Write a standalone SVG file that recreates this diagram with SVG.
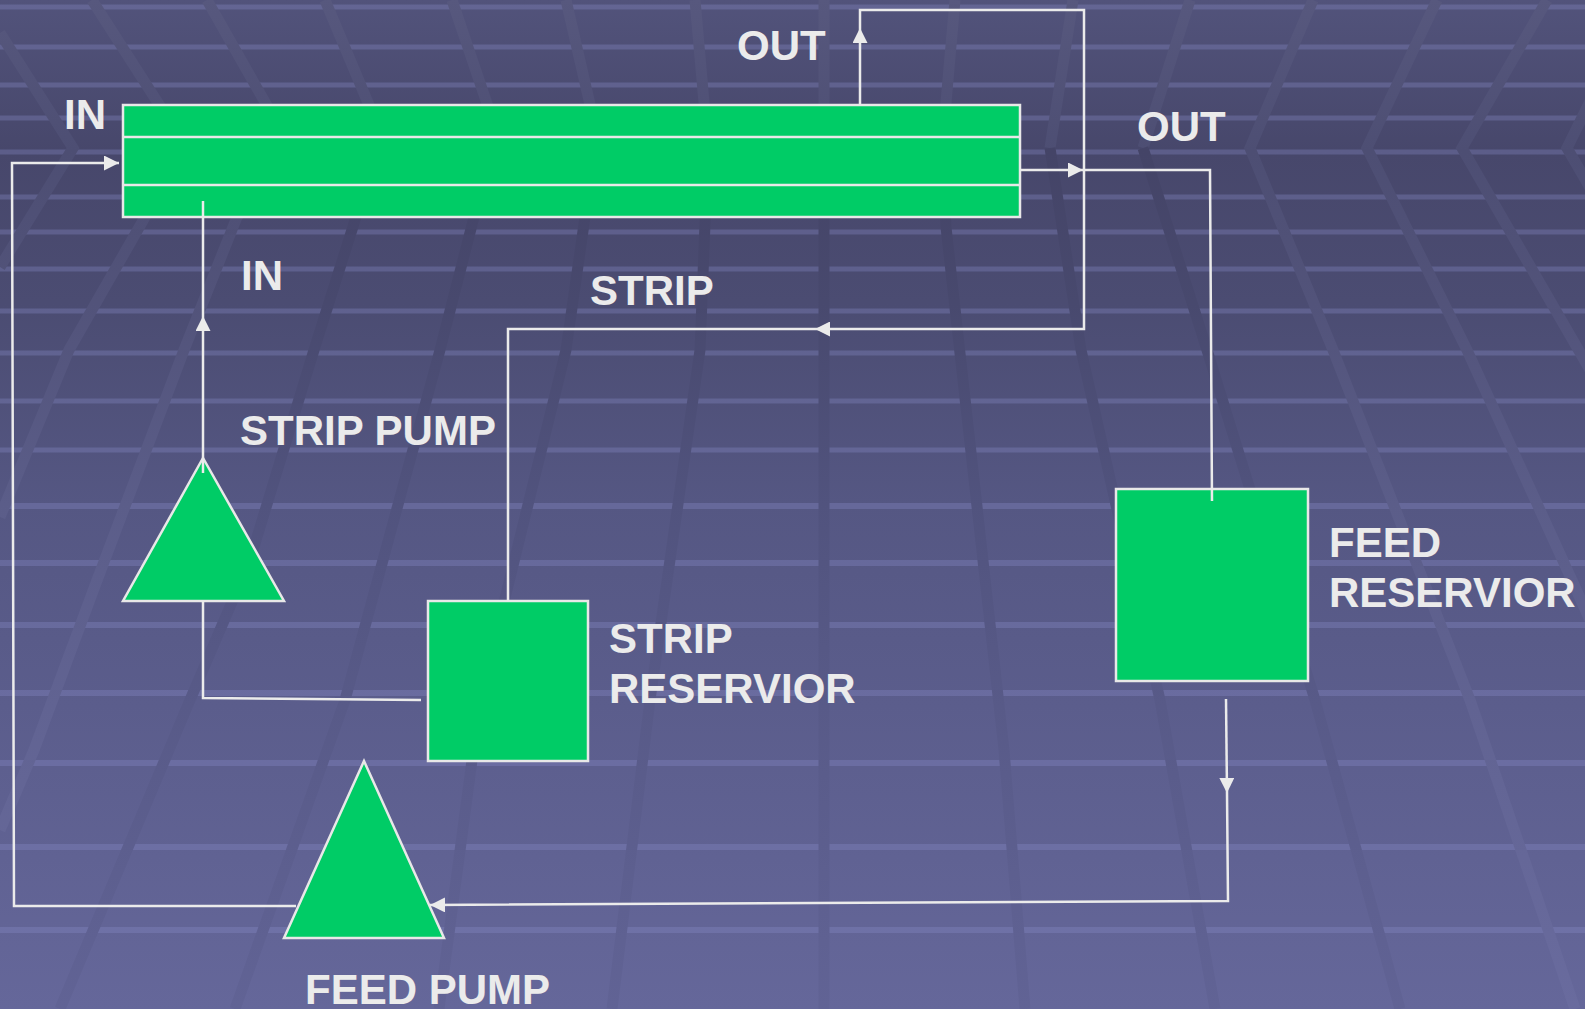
<svg xmlns="http://www.w3.org/2000/svg" width="1585" height="1009" viewBox="0 0 1585 1009">
<defs>
<linearGradient id="bg" gradientUnits="userSpaceOnUse" x1="0" y1="0" x2="0" y2="1009">
<stop offset="0" stop-color="#52537b"/>
<stop offset="0.15" stop-color="#47476b"/>
<stop offset="0.3" stop-color="#4b4c72"/>
<stop offset="0.5" stop-color="#555783"/>
<stop offset="0.7" stop-color="#5b5d8c"/>
<stop offset="1" stop-color="#65679a"/>
</linearGradient>
<linearGradient id="bandDark" gradientUnits="userSpaceOnUse" x1="0" y1="0" x2="0" y2="1009">
<stop offset="0" stop-color="#4e4f76"/>
<stop offset="0.15" stop-color="#444467"/>
<stop offset="0.3" stop-color="#48496e"/>
<stop offset="0.5" stop-color="#51537e"/>
<stop offset="0.7" stop-color="#585a88"/>
<stop offset="1" stop-color="#616395"/>
</linearGradient>
<linearGradient id="bandLight" gradientUnits="userSpaceOnUse" x1="0" y1="0" x2="0" y2="1009">
<stop offset="0" stop-color="#57587e"/>
<stop offset="0.15" stop-color="#4d4e73"/>
<stop offset="0.3" stop-color="#52537a"/>
<stop offset="0.5" stop-color="#5b5d89"/>
<stop offset="0.7" stop-color="#616392"/>
<stop offset="1" stop-color="#696b9e"/>
</linearGradient>
<marker id="arr" viewBox="0 0 10 10" refX="10" refY="5" markerWidth="15" markerHeight="15" markerUnits="userSpaceOnUse" orient="auto">
<path d="M0,0 L10,5 L0,10 z" fill="#ebebeb"/>
</marker>
<style>
.stripe{fill:#8a8cc8;fill-opacity:0.33}
.bd{fill:none;stroke:url(#bandDark);stroke-width:11}
.bl{fill:none;stroke:url(#bandLight);stroke-width:11}
.node{fill:#00cc66;stroke:#e8e8e8;stroke-width:2.5}
.div{stroke:#e8e8e8;stroke-width:2.5}
.conn{fill:none;stroke:#ebebeb;stroke-width:2.5}
.lbl{font-family:"Liberation Sans",Arial,Helvetica,sans-serif;font-weight:bold;font-size:42px;fill:#ebebeb}
</style>
</defs>

<g id="background">
<rect x="0" y="0" width="1585" height="1009" fill="url(#bg)"/>
<rect class="stripe" x="0" y="4.5" width="1585" height="5"/>
<rect class="stripe" x="0" y="44.5" width="1585" height="5"/>
<rect class="stripe" x="0" y="82.5" width="1585" height="5"/>
<rect class="stripe" x="0" y="115.5" width="1585" height="5"/>
<rect class="stripe" x="0" y="149.5" width="1585" height="5"/>
<rect class="stripe" x="0" y="194.5" width="1585" height="5"/>
<rect class="stripe" x="0" y="229.5" width="1585" height="5"/>
<rect class="stripe" x="0" y="266.5" width="1585" height="5"/>
<rect class="stripe" x="0" y="308.5" width="1585" height="5"/>
<rect class="stripe" x="0" y="350.5" width="1585" height="5"/>
<rect class="stripe" x="0" y="398.5" width="1585" height="5"/>
<rect class="stripe" x="0" y="447.5" width="1585" height="5"/>
<rect class="stripe" x="0" y="503" width="1585" height="6"/>
<rect class="stripe" x="0" y="560" width="1585" height="6"/>
<rect class="stripe" x="0" y="622" width="1585" height="6"/>
<rect class="stripe" x="0" y="690" width="1585" height="6"/>
<rect class="stripe" x="0" y="760" width="1585" height="6"/>
<rect class="stripe" x="0" y="844" width="1585" height="6"/>
<rect class="stripe" x="0" y="927" width="1585" height="6"/>
<path class="bl" d="M0,33 L73,148 L0,267"/>
<path class="bl" d="M92,0 L187,148 L145,217 L69,350 L0,517"/>
<path class="bl" d="M207,0 L291,148 L237,217 L184,350 L96,583 L34,750 L0,830"/>
<path class="bl" d="M325,0 L387,148"/>
<path class="bl" d="M452,0 L502,148"/>
<path class="bl" d="M566,0 L600,148"/>
<path class="bl" d="M695,0 L708,148"/>
<path class="bl" d="M824,0 L824,148"/>
<path class="bl" d="M955,0 L942,148"/>
<path class="bl" d="M1073,0 L1050,148"/>
<path class="bl" d="M1190,0 L1143,148"/>
<path class="bl" d="M1313,0 L1250,148 L1333,350 L1470,700 L1575,1009"/>
<path class="bl" d="M1437,0 L1367,148 L1467,350 L1590,620"/>
<path class="bl" d="M1547,0 L1462,148 L1590,370"/>
<path class="bl" d="M1640,0 L1567,148 L1600,205"/>
<path class="bd" d="M387,148 L356,217 L314,350 L250,560 L190,700 L60,1009"/>
<path class="bd" d="M502,148 L474,217 L440,350 L345,700 L235,1009"/>
<path class="bd" d="M600,148 L585,217 L566,350 L480,700 L439,1009"/>
<path class="bd" d="M708,148 L700,350 L650,700 L612,1009"/>
<path class="bd" d="M824,148 L824,1009"/>
<path class="bd" d="M942,148 L946,227 L1004,750 L1025,1009"/>
<path class="bd" d="M1050,148 L1081,350 L1160,700 L1215,1009"/>
<path class="bd" d="M1143,148 L1207,350 L1315,700 L1400,1009"/>
</g>

<g id="membrane-column">
<rect class="node" x="123" y="105" width="897" height="112"/>
<line class="div" x1="123" y1="137" x2="1020" y2="137"/>
<line class="div" x1="123" y1="185" x2="1020" y2="185"/>
</g>
<g id="strip-pump">
<polygon class="node" points="203,458 123,601 284,601"/>
</g>
<g id="feed-pump">
<polygon class="node" points="364,761 284,938 444,938"/>
</g>
<g id="strip-reservoir">
<rect class="node" x="428" y="601" width="160" height="160"/>
</g>
<g id="feed-reservoir">
<rect class="node" x="1116" y="489" width="192" height="192"/>
</g>

<g id="connectors">
<path class="conn" d="M296,906 L14,906 L12,163 L119,163" marker-end="url(#arr)"/>
<path class="conn" d="M860,105 L860,28" marker-end="url(#arr)"/>
<path class="conn" d="M860,28 L860,10 L1084,10 L1084,329 L815,329" marker-end="url(#arr)"/>
<path class="conn" d="M815,329 L508,329 L508,601"/>
<path class="conn" d="M1020,170 L1083,170" marker-end="url(#arr)"/>
<path class="conn" d="M1083,170 L1210,170 L1212,501"/>
<path class="conn" d="M1226,699 L1227,793" marker-end="url(#arr)"/>
<path class="conn" d="M1227,793 L1228,901 L430,905" marker-end="url(#arr)"/>
<path class="conn" d="M421,700 L203,698 L203,601"/>
<path class="conn" d="M203,473 L203,316" marker-end="url(#arr)"/>
<path class="conn" d="M203,316 L203,201"/>
</g>

<g id="labels">
<text class="lbl" x="64" y="129">IN</text>
<text class="lbl" x="737" y="60">OUT</text>
<text class="lbl" x="1137" y="141">OUT</text>
<text class="lbl" x="241" y="290">IN</text>
<text class="lbl" x="590" y="305">STRIP</text>
<text class="lbl" x="240" y="445">STRIP PUMP</text>
<text class="lbl" x="609" y="653">STRIP</text>
<text class="lbl" x="609" y="703">RESERVIOR</text>
<text class="lbl" x="1329" y="557">FEED</text>
<text class="lbl" x="1329" y="607">RESERVIOR</text>
<text class="lbl" x="305" y="1004">FEED PUMP</text>
</g>
</svg>
